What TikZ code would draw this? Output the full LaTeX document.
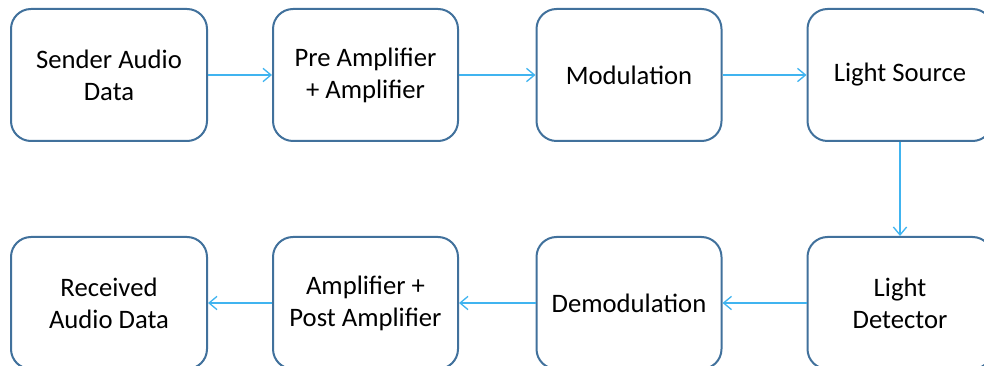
\documentclass[tikz,border=0pt]{standalone}
\usepackage{fontspec}
\setmainfont{Carlito}
\usetikzlibrary{arrows.meta}
\definecolor{boxline}{HTML}{41719C}
\definecolor{arrowline}{HTML}{40B4F0}
\begin{document}
\begin{tikzpicture}[
  x=0.75pt, y=-0.75pt,
  block/.style={rectangle,rounded corners=15pt,draw=boxline,line width=1.5pt,fill=white,
    minimum width=138.75pt,minimum height=99pt,align=center,
    font=\fontsize{20}{24}\selectfont},
  wide/.style={minimum width=147pt},
  flow/.style={draw=arrowline,line width=1pt,-{Straight Barb[length=6pt,width=10pt]}}
]
\clip (0,0) rectangle (984,366);
% top row
\node[block,wide] (sender) at (109,75) {Sender Audio\\Data};
\node[block] (preamp) at (365.5,75) {Pre Amplifier\\+ Amplifier};
\node[block] (mod) at (629,75) {Modulation};
\node[block] (source) at (900,75) {Light Source};
% bottom row
\node[block,wide] (received) at (109,303) {Received\\Audio Data};
\node[block] (postamp) at (365.5,303) {Amplifier +\\Post Amplifier};
\node[block] (demod) at (629,303) {Demodulation};
\node[block] (detector) at (900,303) {Light\\Detector};
% connectors
\draw[flow] (sender) -- (preamp);
\draw[flow] (preamp) -- (mod);
\draw[flow] (mod) -- (source);
\draw[flow] (source) -- (detector);
\draw[flow] (detector) -- (demod);
\draw[flow] (demod) -- (postamp);
\draw[flow] (postamp) -- (received);
\end{tikzpicture}
\end{document}
